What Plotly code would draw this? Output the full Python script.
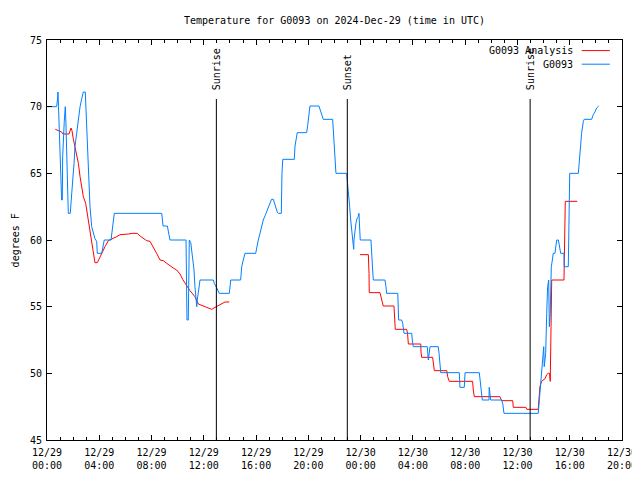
import pandas as pd
import plotly.graph_objects as go

BASE = pd.Timestamp("2024-12-29 00:00")

# G0093 observations: hours since 2024-12-29 00:00 UTC, temperature (F)
obs_hours = [0.00, 0.74, 0.80, 0.84, 0.88, 0.94, 0.99, 1.05, 1.12, 1.17, 1.20, 1.32, 1.40, 1.45,
             1.55, 1.63, 1.78, 1.86, 1.97, 2.07, 2.14, 2.27, 2.40, 2.53, 2.66, 2.78, 2.93, 2.98,
             3.08, 3.19, 3.29, 3.42, 3.54, 3.67, 3.80, 3.85, 4.19, 4.29, 4.38, 4.90, 5.01, 5.15,
             8.78, 8.82, 8.88, 9.21, 9.28, 9.41, 10.64, 10.71, 10.81, 10.89, 11.00, 11.07, 11.15,
             11.25, 11.32, 11.40, 11.46, 11.50, 11.61, 11.71, 12.73, 12.80, 12.99, 13.18, 13.95,
             14.06, 14.82, 14.90, 15.02, 15.15, 15.97, 16.05, 16.17, 16.30, 16.43, 16.55, 16.72,
             16.86, 17.01, 17.18, 17.32, 17.45, 17.62, 17.70, 17.93, 17.98, 18.04, 18.92, 18.98,
             19.15, 19.87, 19.95, 20.05, 20.12, 20.81, 20.89, 21.02, 21.14, 21.86, 21.96, 22.11,
             22.93, 23.01, 23.06, 23.16, 23.24, 23.32, 23.39, 23.47, 23.49, 23.57, 23.64, 23.72,
             23.82, 23.87, 23.91, 23.97, 24.79, 24.85, 24.92, 24.97, 25.86, 25.94, 25.99, 26.84,
             26.88, 26.91, 27.14, 27.22, 27.32, 27.91, 27.95, 28.03, 29.10, 29.18, 29.31, 29.94,
             30.00, 30.07, 30.13, 31.55, 31.60, 31.93, 31.99, 33.08, 33.13, 33.21, 33.31, 33.82,
             33.84, 33.95, 34.79, 34.87, 34.97, 37.59, 37.67, 37.78, 37.85, 37.93, 38.01, 38.05,
             38.16, 38.24, 38.31, 38.39, 38.44, 38.51, 38.59, 38.67, 38.74, 38.87, 39.00, 39.13,
             39.20, 39.31, 39.56, 39.58, 39.89, 39.94, 40.00, 40.66, 40.73, 40.84, 40.91, 41.04,
             41.11, 41.68, 41.80, 41.93, 42.06, 42.22]
obs_temp = [70.0, 70.0, 70.5, 71.1, 70.0, 68.1, 66.0, 64.1, 63.0, 63.0, 66.25, 68.9, 70.0, 68.75,
            63.25, 62.0, 62.0, 63.5, 64.5, 65.75, 67.0, 68.0, 69.25, 70.0, 70.6, 71.1, 71.1, 69.75,
            67.0, 64.25, 62.5, 61.0, 60.6, 60.1, 59.9, 59.0, 59.0, 59.5, 60.0, 60.0, 61.0, 62.0,
            62.0, 61.5, 61.05, 61.05, 60.55, 60.0, 60.0, 54.0, 54.0, 60.0, 59.8, 59.25, 58.6,
            57.75, 56.5, 55.5, 55.0, 55.5, 56.3, 57.0, 57.0, 56.75, 56.4, 56.0, 56.0,
            57.0, 57.0, 58.0, 58.5, 59.0, 59.0, 59.5, 60.0, 60.5, 61.0, 61.5, 61.9,
            62.25, 62.6, 63.05, 63.05, 62.6, 62.1, 62.0, 62.0, 65.0, 66.05, 66.05, 67.05,
            68.05, 68.05, 68.6, 69.4, 70.05, 70.05, 69.8, 69.4, 69.05, 69.05, 67.05, 65.0,
            65.0, 64.25, 63.6, 62.5, 61.5, 60.5, 59.75, 59.3, 60.0, 60.75, 61.25, 61.6,
            61.75, 62.0, 61.0, 60.0, 60.0, 59.25, 57.75, 57.0, 57.0, 56.5, 56.0, 56.0,
            55.0, 54.0, 54.0, 53.75, 53.0, 53.0, 52.5, 52.0, 52.0, 51.0, 52.0, 52.0,
            51.5, 50.25, 50.05, 50.05, 48.95, 48.95, 50.05, 50.05, 49.5, 48.9, 48.0, 48.0,
            48.95, 48.0, 48.0, 47.75, 47.0, 47.0, 48.0, 49.25, 49.75, 51.0, 52.0, 50.5,
            51.5, 54.5, 56.5, 57.0, 53.5, 54.5, 58.0, 58.5, 59.0, 59.0, 60.0, 60.0,
            59.5, 59.0, 59.0, 58.0, 58.0, 61.5, 65.0, 65.0, 66.0, 67.0, 68.0, 68.9,
            69.05, 69.05, 69.4, 69.6, 69.9, 70.05]

# G0093 Analysis (two segments)
ana1_hours = [0.64, 1.12, 1.22, 1.68, 1.84, 1.91, 2.01, 2.14, 2.27, 2.40, 2.53, 2.66, 2.78, 2.96,
              3.08, 3.24, 3.34, 3.42, 3.52, 3.67, 3.85, 4.06, 4.44, 4.69, 5.07, 5.33, 5.59, 6.10,
              6.22, 6.56, 6.91, 7.12, 7.37, 7.63, 7.88, 8.13, 8.39, 8.65, 8.90, 9.16, 9.41, 9.66,
              9.92, 10.18, 10.38, 10.69, 10.94, 11.32, 11.58, 12.09, 12.60, 12.86, 13.11, 13.39,
              13.62, 13.95]
ana1_temp = [68.3, 68.1, 67.95, 67.95, 68.4, 68.2, 67.6, 67.0, 66.25, 65.75, 64.75, 64.0, 63.25,
             62.75, 62.0, 61.25, 60.5, 60.0, 59.2, 58.3, 58.3, 58.75, 59.5, 59.95, 60.1, 60.25,
             60.4, 60.4, 60.45, 60.5, 60.5, 60.3, 60.1, 59.95, 59.9, 59.5, 59.0, 58.5, 58.45,
             58.25, 58.05, 57.9, 57.75, 57.45, 57.05, 56.6, 56.2, 55.75, 55.2, 55.0, 54.8, 54.95,
             55.1, 55.25, 55.35, 55.35]
ana2_hours = [23.95, 24.59, 24.64, 24.66, 25.48, 25.56, 25.66, 25.73, 26.55, 26.59, 26.65, 27.52,
              27.59, 27.65, 28.60, 28.62, 28.67, 29.51, 29.57, 29.64, 30.59, 30.66, 30.78, 32.57,
              32.62, 32.70, 34.66, 34.72, 34.79, 35.64, 35.68, 36.65, 36.71, 37.59, 37.67, 37.72,
              37.85, 37.98, 38.11, 38.24, 38.36, 38.45, 38.51, 38.57, 38.62, 39.56, 39.61, 39.66,
              40.58]
ana2_temp = [58.9, 58.9, 57.5, 56.05, 56.05, 55.75, 55.4, 55.05, 55.05, 54.25, 53.3, 53.3,
             53.0, 52.2, 52.2, 51.6, 51.2, 51.2, 50.75, 50.2, 50.2, 49.75, 49.4, 49.4,
             48.75, 48.25, 48.25, 48.05, 47.95, 47.95, 47.45, 47.45, 47.3, 47.3, 48.25, 49.0,
             49.4, 49.5, 49.6, 49.9, 50.0, 50.0, 49.4, 53.5, 57.0, 57.0, 59.9, 62.9,
             62.9]

event_names = ["Sunrise", "Sunset", "Sunrise"]
event_hours = [12.96, 22.98, 36.97]

y_ticks = [45, 50, 55, 60, 65, 70, 75]
title = "Temperature for G0093 on 2024-Dec-29 (time in UTC)"
y_label = "degrees F"
series_names = ["G0093 Analysis", "G0093"]
series_colors = ["#ff0000", "#0080ff"]

FONT = "DejaVu Sans Mono"
# page body has an 8px margin, so the figure is 8px smaller than the window
W, H = 632, 472
ML, MR, MT, MB = 39, 18, 32, 40


def to_time(hours):
    return BASE + pd.to_timedelta(hours, unit="h")


fig = go.Figure()
fig.add_trace(go.Scatter(x=to_time(ana1_hours), y=ana1_temp, mode="lines",
                         line=dict(color=series_colors[0], width=1), name=series_names[0],
                         showlegend=False))
fig.add_trace(go.Scatter(x=to_time(ana2_hours), y=ana2_temp, mode="lines",
                         line=dict(color=series_colors[0], width=1), name=series_names[0],
                         showlegend=False))
fig.add_trace(go.Scatter(x=to_time(obs_hours), y=obs_temp, mode="lines",
                         line=dict(color=series_colors[1], width=1), name=series_names[1],
                         showlegend=False))

# Sunrise / sunset markers
for name, h in zip(event_names, event_hours):
    t = to_time(h)
    fig.add_shape(type="line", xref="x", yref="paper", x0=t, x1=t, y0=0, y1=0.8525,
                  line=dict(color="black", width=1))
    fig.add_annotation(x=t, y=0.87, xref="x", yref="paper", text=name, textangle=-90,
                       showarrow=False, xanchor="center", yanchor="bottom",
                       font=dict(family=FONT, size=10, color="black"))

# Manual gnuplot-style legend (text then line sample)
for i, (name, col) in enumerate(zip(series_names, series_colors)):
    yy = 0.9735 - i * 0.034
    fig.add_annotation(x=0.918, y=yy, xref="paper", yref="paper", text=name, showarrow=False,
                       xanchor="right", yanchor="middle",
                       font=dict(family=FONT, size=10, color="black"))
    fig.add_shape(type="line", xref="paper", yref="paper", x0=0.930, x1=0.979, y0=yy, y1=yy,
                  line=dict(color=col, width=1))

# Y axis label
fig.add_annotation(x=-0.055, y=0.5, xref="paper", yref="paper", text=y_label, textangle=-90,
                   showarrow=False, xanchor="center", yanchor="middle",
                   font=dict(family=FONT, size=10, color="black"))

axis_common = dict(showline=True, linecolor="black", linewidth=1, mirror="allticks",
                   ticks="inside", tickcolor="black", showgrid=False, zeroline=False,
                   automargin=False,
                   tickfont=dict(family=FONT, size=10, color="black"))

fig.update_layout(
    width=W, height=H,
    margin=dict(l=ML, r=MR, t=MT, b=MB),
    paper_bgcolor="white", plot_bgcolor="white",
    title=dict(text=title, x=(ML + (W - MR)) / 2 / W, xanchor="center", y=1 - 12 / H,
               yanchor="middle", font=dict(family=FONT, size=10, color="black")),
    xaxis=dict(range=[BASE, to_time(44)], dtick=4 * 3600 * 1000, tick0=BASE,
               tickformat="%m/%d<br>%H:%M", ticklen=5, ticklabelstandoff=3,
               minor=dict(dtick=3600 * 1000, ticklen=3, ticks="inside", tickcolor="black",
                          showgrid=False),
               **axis_common),
    yaxis=dict(range=[45, 75], tickvals=y_ticks, ticklen=5, ticklabelstandoff=2,
               **axis_common),
    showlegend=False,
)

fig.write_html("out.html")
